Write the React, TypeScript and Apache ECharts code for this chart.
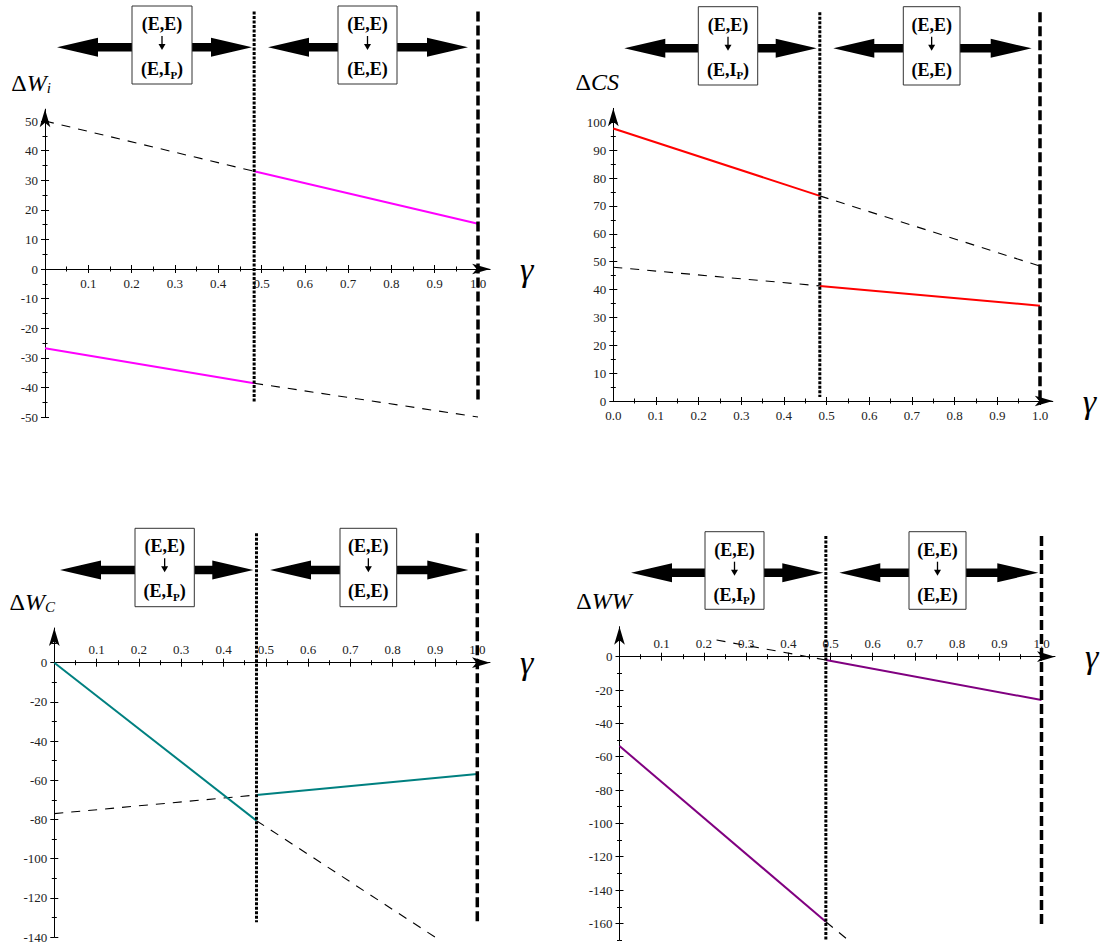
import { useEffect, useRef } from "react";
import * as echarts from "echarts";

const WIDTH = 1101;
const HEIGHT = 949;

// ---------- ΔW_i ----------
const wiSolidHigh = [[0.483, 33], [1.0, 15.3]];
const wiSolidLow = [[0, -26.8], [0.483, -38.6]];
const wiDashHigh = [[0, 50], [0.483, 33]];
const wiDashLow = [[0.483, -38.6], [1.0, -50]];
const wiDotted = [[0.483, 87], [0.483, -45]];
const wiBoundary = [[1.0, 87], [1.0, -45]];
const wiTicks = [-50, -40, -30, -20, -10, 0, 10, 20, 30, 40, 50];
const wiMinor = [-45, -35, -25, -15, -5, 5, 15, 25, 35, 45];

// ---------- ΔCS ----------
const csSolidHigh = [[0, 97.8], [0.484, 73.6]];
const csSolidLow = [[0.484, 41.3], [1.0, 34.2]];
const csDashHigh = [[0.484, 73.6], [1.0, 48.4]];
const csDashLow = [[0, 48], [0.484, 41.3]];
const csDotted = [[0.484, 139.5], [0.484, 1.4]];
const csBoundary = [[1.0, 139.5], [1.0, 0.4]];
const csTicks = [0, 10, 20, 30, 40, 50, 60, 70, 80, 90, 100];
const csMinor = [5, 15, 25, 35, 45, 55, 65, 75, 85, 95];

// ---------- ΔW_C ----------
const wcSolidA = [[0, 0], [0.478, -80.6]];
const wcSolidB = [[0.478, -67.5], [1.0, -56.8]];
const wcDashA = [[0, -77], [0.478, -67.5]];
const wcDashB = [[0.478, -80.6], [0.9, -140]];
const wcDotted = [[0.478, 66], [0.478, -132.4]];
const wcBoundary = [[1.0, 66], [1.0, -132.4]];
const wcTicks = [0, -20, -40, -60, -80, -100, -120, -140];
const wcMinor = [10, -10, -30, -50, -70, -90, -110, -130];

// ---------- ΔWW ----------
const wwSolidA = [[0, -53.6], [0.489, -159]];
const wwSolidB = [[0.489, -2], [1.0, -26]];
const wwDashA = [[0.23, 10], [0.489, -2]];
const wwDashB = [[0.489, -159], [0.542, -170]];
const wwDotted = [[0.489, 72.4], [0.489, -170]];
const wwBoundary = [[1.0, 72.4], [1.0, -161]];
const wwTicks = [0, -20, -40, -60, -80, -100, -120, -140, -160];
const wwMinor = [10, -10, -30, -50, -70, -90, -110, -130, -150, -170];

// γ axis ticks
const gammaTicks = [0.1, 0.2, 0.3, 0.4, 0.5, 0.6, 0.7, 0.8, 0.9, 1.0];
const gammaTicksFromZero = [0.0, 0.1, 0.2, 0.3, 0.4, 0.5, 0.6, 0.7, 0.8, 0.9, 1.0];
const gammaMinor = [0.05, 0.15, 0.25, 0.35, 0.45, 0.55, 0.65, 0.75, 0.85, 0.95];

// regime boxes
const regimeFrom = ["(E,E)", "(E,E)"];
const regimeTo = ["{b|(E,I}{s|P}{b|)}", "{b|(E,E)}"];

const SERIF = "Liberation Serif";

const COLORS = {
  wi: "#ff00ff",
  cs: "#ff0000",
  wc: "#008080",
  ww: "#800080",
};

type Panel = {
  x0: number; sx: number; xMax: number;
  y0: number; sy: number; yMin: number; yMax: number;
  xTop: boolean;
  xLabels: number[];
  yTicks: number[]; yMinor: number[];
  yName: string; namePad: number; nameGap: number;
  solid: number[][][]; dashed: number[][][];
  dotted: number[][]; boundary: number[][];
  color: string;
};

const panels: Panel[] = [
  {
    x0: 45, sx: 433, xMax: 1.028, y0: 269, sy: 2.96, yMin: -50, yMax: 54,
    xTop: false, xLabels: gammaTicks, yTicks: wiTicks, yMinor: wiMinor,
    yName: "{d|Δ}{w|W}{s|i}", namePad: 28, nameGap: 14,
    solid: [wiSolidHigh, wiSolidLow], dashed: [wiDashHigh, wiDashLow],
    dotted: wiDotted, boundary: wiBoundary, color: COLORS.wi,
  },
  {
    x0: 613.3, sx: 426.7, xMax: 1.03, y0: 401, sy: 2.787, yMin: 0, yMax: 105,
    xTop: false, xLabels: gammaTicksFromZero, yTicks: csTicks, yMinor: csMinor,
    yName: "{d|Δ}{w|CS}", namePad: 32, nameGap: 14,
    solid: [csSolidHigh, csSolidLow], dashed: [csDashHigh, csDashLow],
    dotted: csDotted, boundary: csBoundary, color: COLORS.cs,
  },
  {
    x0: 54.3, sx: 423, xMax: 1.03, y0: 662.7, sy: 1.96, yMin: -140, yMax: 17.7,
    xTop: true, xLabels: gammaTicks, yTicks: wcTicks, yMinor: wcMinor,
    yName: "{d|Δ}{w|W}{s|C}", namePad: 44, nameGap: 14,
    solid: [wcSolidA, wcSolidB], dashed: [wcDashA, wcDashB],
    dotted: wcDotted, boundary: wcBoundary, color: COLORS.wc,
  },
  {
    x0: 619.5, sx: 422, xMax: 1.032, y0: 656.7, sy: 1.667, yMin: -170, yMax: 18,
    xTop: true, xLabels: gammaTicks, yTicks: wwTicks, yMinor: wwMinor,
    yName: "{d|Δ}{w|WW}", namePad: 31, nameGap: 14,
    solid: [wwSolidA, wwSolidB], dashed: [wwDashA, wwDashB],
    dotted: wwDotted, boundary: wwBoundary, color: COLORS.ww,
  },
];

// annotation layout: double arrows with regime boxes above each panel
const annots = [
  { yc: 47.3, boxTop: 6, boxH: 78, boxes: [[132, 192], [338, 397]], spans: [[57, 252], [268, 468]] },
  { yc: 48.3, boxTop: 6.7, boxH: 78.3, boxes: [[698.3, 757.7], [903.3, 960]], spans: [[624.3, 816.7], [833.3, 1031.7]] },
  { yc: 570, boxTop: 528.3, boxH: 78.4, boxes: [[135, 194.3], [340, 396.7]], spans: [[60, 253.3], [270, 468.3]] },
  { yc: 572.7, boxTop: 531.7, boxH: 77.6, boxes: [[705, 764], [909, 966]], spans: [[631, 823.3], [839.3, 1038.3]] },
];

const HEAD_LEN = 41;
const HEAD_HALF = 9.5;
const SHAFT_HALF = 4.2;

function leftArrow(tip: number, end: number, yc: number) {
  return [
    [tip, yc],
    [tip + HEAD_LEN, yc - HEAD_HALF],
    [tip + HEAD_LEN, yc - SHAFT_HALF],
    [end, yc - SHAFT_HALF],
    [end, yc + SHAFT_HALF],
    [tip + HEAD_LEN, yc + SHAFT_HALF],
    [tip + HEAD_LEN, yc + HEAD_HALF],
  ];
}

function rightArrow(start: number, tip: number, yc: number) {
  return [
    [tip, yc],
    [tip - HEAD_LEN, yc - HEAD_HALF],
    [tip - HEAD_LEN, yc - SHAFT_HALF],
    [start, yc - SHAFT_HALF],
    [start, yc + SHAFT_HALF],
    [tip - HEAD_LEN, yc + SHAFT_HALF],
    [tip - HEAD_LEN, yc + HEAD_HALF],
  ];
}

function buildGraphic() {
  const els: any[] = [];
  annots.forEach((a) => {
    a.boxes.forEach((bx, k) => {
      const [l, r] = bx;
      const [s0, s1] = a.spans[k];
      els.push({ type: "polygon", shape: { points: leftArrow(s0, l, a.yc) }, style: { fill: "#000" }, silent: true });
      els.push({ type: "polygon", shape: { points: rightArrow(r, s1, a.yc) }, style: { fill: "#000" }, silent: true });
      els.push({
        type: "rect",
        shape: { x: l, y: a.boxTop, width: r - l, height: a.boxH },
        style: { fill: "#fff", stroke: "#333", lineWidth: 1 },
        silent: true,
      });
      const cx = (l + r) / 2;
      els.push({
        type: "text", x: cx, y: a.boxTop + 18, silent: true,
        style: {
          text: regimeFrom[k], fontFamily: SERIF, fontWeight: "bold", fontSize: 18, fill: "#000",
          textAlign: "center", textVerticalAlign: "middle",
        },
      });
      // small downward arrow between the two regimes
      const aTop = a.boxTop + 30;
      const aBot = a.boxTop + 44;
      els.push({
        type: "line", silent: true,
        shape: { x1: cx, y1: aTop, x2: cx, y2: aBot - 3 },
        style: { stroke: "#000", lineWidth: 1.3 },
      });
      els.push({
        type: "polygon", silent: true,
        shape: { points: [[cx - 3.5, aBot - 6], [cx + 3.5, aBot - 6], [cx, aBot]] },
        style: { fill: "#000" },
      });
      els.push({
        type: "text", x: cx, y: a.boxTop + 63, silent: true,
        style: {
          text: regimeTo[k], textAlign: "center", textVerticalAlign: "middle",
          rich: {
            b: { fontFamily: SERIF, fontWeight: "bold", fontSize: 18, fill: "#000", lineHeight: 22, verticalAlign: "middle" },
            s: { fontFamily: SERIF, fontWeight: "bold", fontSize: 11, fill: "#000", lineHeight: 22, verticalAlign: "bottom" },
          },
        },
      });
    });
  });
  return els;
}

function buildOption() {
  const grid: any[] = [];
  const xAxis: any[] = [];
  const yAxis: any[] = [];
  const series: any[] = [];
  const labelStyle = { fontFamily: SERIF, fontSize: 13, color: "#222" };
  const tickLine = { color: "#000", width: 1 };

  panels.forEach((p) => {
    // plotting grid
    const gData = grid.length;
    grid.push({
      left: p.x0,
      top: p.y0 - p.yMax * p.sy,
      width: p.xMax * p.sx,
      height: (p.yMax - p.yMin) * p.sy,
      containLabel: false,
      outerBoundsMode: "none",
    });
    // thin strip whose edge sits on y = 0; it carries the γ axis
    const gAxis = grid.length;
    grid.push({
      left: p.x0,
      top: p.xTop ? p.y0 : p.y0 - 10,
      width: p.xMax * p.sx,
      height: 10,
      containLabel: false,
      outerBoundsMode: "none",
    });

    const dataX = xAxis.length;
    xAxis.push({ type: "value", gridIndex: gData, min: 0, max: p.xMax, show: false });

    const gammaAxis = (extra: any) => ({
      type: "value",
      gridIndex: gAxis,
      min: 0,
      max: p.xMax,
      position: p.xTop ? "top" : "bottom",
      splitLine: { show: false },
      axisLabel: { show: false },
      axisTick: { show: false },
      axisLine: { show: false, onZero: false },
      ...extra,
    });
    xAxis.push(
      gammaAxis({
        axisLine: {
          show: true,
          onZero: false,
          symbol: ["none", "arrow"],
          symbolSize: [8, 18],
          lineStyle: { color: "#000", width: 1 },
        },
        axisTick: { show: true, customValues: gammaTicks, length: 4, inside: false, lineStyle: tickLine },
        axisLabel: {
          show: true,
          customValues: p.xLabels,
          formatter: (v: number) => v.toFixed(1),
          margin: p.xTop ? 7 : 8,
          ...labelStyle,
        },
        name: "γ",
        nameLocation: "end",
        nameGap: 30,
        nameTextStyle: { fontFamily: SERIF, fontStyle: "italic", fontSize: 34, color: "#000", padding: [0, 0, 8, 0] },
      })
    );
    xAxis.push(gammaAxis({ axisTick: { show: true, customValues: gammaTicks, length: 4, inside: true, lineStyle: tickLine } }));
    xAxis.push(gammaAxis({ axisTick: { show: true, customValues: gammaMinor, length: 2.5, inside: false, lineStyle: tickLine } }));
    xAxis.push(gammaAxis({ axisTick: { show: true, customValues: gammaMinor, length: 2.5, inside: true, lineStyle: tickLine } }));

    const yBase = (extra: any) => ({
      type: "value",
      gridIndex: gData,
      min: p.yMin,
      max: p.yMax,
      position: "left",
      splitLine: { show: false },
      axisLabel: { show: false },
      axisTick: { show: false },
      axisLine: { show: false, onZero: false },
      ...extra,
    });
    const dataY = yAxis.length;
    yAxis.push(
      yBase({
        axisLine: {
          show: true,
          onZero: false,
          symbol: ["none", "arrow"],
          symbolSize: [8, 18],
          lineStyle: { color: "#000", width: 1 },
        },
        axisTick: { show: true, customValues: p.yTicks, length: 4, inside: false, lineStyle: tickLine },
        axisLabel: {
          show: true,
          customValues: p.yTicks,
          formatter: (v: number) => String(Math.round(v)),
          margin: 7,
          ...labelStyle,
        },
        name: p.yName,
        nameLocation: "end",
        nameGap: p.nameGap,
        nameTextStyle: {
          padding: [0, p.namePad, 0, 0],
          rich: {
            d: { fontFamily: SERIF, fontSize: 24, color: "#000", lineHeight: 28, verticalAlign: "bottom" },
            w: { fontFamily: SERIF, fontStyle: "italic", fontSize: 24, color: "#000", lineHeight: 28, verticalAlign: "bottom" },
            s: { fontFamily: SERIF, fontStyle: "italic", fontSize: 15, color: "#000", lineHeight: 22, verticalAlign: "bottom" },
          },
        },
      })
    );
    yAxis.push(yBase({ axisTick: { show: true, customValues: p.yTicks, length: 4, inside: true, lineStyle: tickLine } }));
    yAxis.push(yBase({ axisTick: { show: true, customValues: p.yMinor, length: 2.5, inside: false, lineStyle: tickLine } }));
    yAxis.push(yBase({ axisTick: { show: true, customValues: p.yMinor, length: 2.5, inside: true, lineStyle: tickLine } }));
    yAxis.push({ type: "value", gridIndex: gAxis, min: 0, max: 1, show: false });

    const line = (data: number[][], lineStyle: any, z: number) => ({
      type: "line",
      xAxisIndex: dataX,
      yAxisIndex: dataY,
      data,
      symbol: "none",
      showSymbol: false,
      clip: false,
      silent: true,
      z,
      lineStyle,
    });

    p.dashed.forEach((d) => series.push(line(d, { color: "#000", width: 1.1, type: [9, 8] }, 2)));
    p.solid.forEach((d) => series.push(line(d, { color: p.color, width: 2 }, 3)));
    series.push(line(p.dotted, { color: "#000", width: 3, type: [3, 1.5], cap: "butt" }, 4));
    series.push(line(p.boundary, { color: "#000", width: 3.5, type: [10, 4], cap: "butt" }, 4));
  });

  return {
    animation: false,
    backgroundColor: "#fff",
    grid,
    xAxis,
    yAxis,
    series,
    graphic: buildGraphic(),
  };
}

export default function App() {
  const ref = useRef<HTMLDivElement>(null);
  useEffect(() => {
    if (!ref.current) return;
    const chart = echarts.init(ref.current, undefined, { renderer: "svg" });
    chart.setOption(buildOption() as any);
    return () => chart.dispose();
  }, []);
  return (
    <div
      ref={ref}
      style={{ position: "absolute", left: 0, top: 0, width: WIDTH, height: HEIGHT, background: "#fff" }}
    />
  );
}
